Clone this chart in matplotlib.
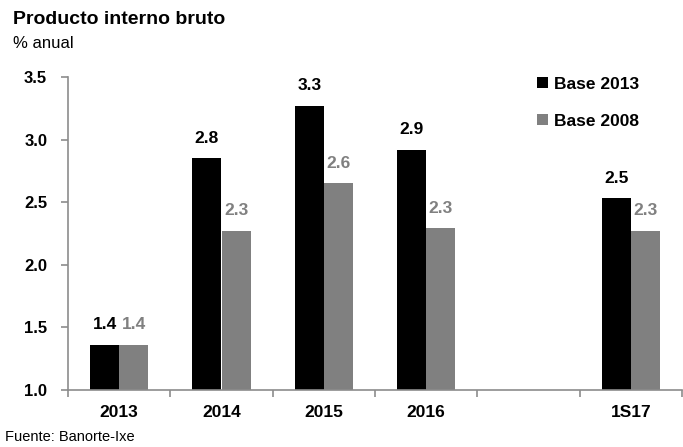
import matplotlib.pyplot as plt
import numpy as np

plt.rcParams["font.family"] = ["Liberation Sans", "DejaVu Sans"]

# Data
categories = ["2013", "2014", "2015", "2016", "", "1S17"]
base_2013 = [1.36, 2.85, 3.27, 2.92, np.nan, 2.53]
base_2008 = [1.36, 2.27, 2.65, 2.29, np.nan, 2.27]
labels_2013 = ["1.4", "2.8", "3.3", "2.9", "", "2.5"]
labels_2008 = ["1.4", "2.3", "2.6", "2.3", "", "2.3"]

BLACK = "#000000"
GRAY = "#808080"
AXIS = "#8c8c8c"

fig = plt.figure(figsize=(6.83, 4.47), dpi=100)
ax = fig.add_axes([68 / 683, 1 - 390 / 447, 614 / 683, 313 / 447])

x = np.arange(len(categories))
width = 0.285
ax.bar(x - width / 2, base_2013, width, color=BLACK, label="Base 2013", zorder=2)
ax.bar(x + width / 2, base_2008, width, color=GRAY, label="Base 2008", zorder=2)

for i in range(len(categories)):
    if labels_2013[i]:
        ax.text(x[i] - width / 2, base_2013[i] + 0.1, labels_2013[i], ha="center",
                va="bottom", fontsize=12.5, fontweight="bold", color=BLACK)
    if labels_2008[i]:
        ax.text(x[i] + width / 2, base_2008[i] + 0.1, labels_2008[i], ha="center",
                va="bottom", fontsize=12.5, fontweight="bold", color=GRAY)

ax.set_xlim(-0.5, len(categories) - 0.5)
ax.set_ylim(1.0, 3.5)
ax.set_yticks(np.arange(1.0, 3.51, 0.5))
ax.set_yticklabels([f"{v:.1f}" for v in np.arange(1.0, 3.51, 0.5)],
                   fontsize=12, fontweight="bold")

# category labels between boundary ticks
ax.set_xticks(np.arange(-0.5, len(categories), 1.0))
ax.set_xticklabels([])
ax.set_xticks(x, minor=True)
ax.set_xticklabels(categories, minor=True, fontsize=12.5, fontweight="bold")
ax.tick_params(axis="x", which="minor", length=0, pad=11)
ax.tick_params(axis="x", which="major", length=5, color=AXIS, width=1.2)
ax.tick_params(axis="y", length=5, color=AXIS, width=1.2, pad=10)

for side in ["top", "right"]:
    ax.spines[side].set_visible(False)
for side in ["left", "bottom"]:
    ax.spines[side].set_color(AXIS)
    ax.spines[side].set_linewidth(1.2)

leg = ax.legend(loc="upper right", bbox_to_anchor=(0.955, 1.05), frameon=False,
                prop={"size": 12.5, "weight": "bold"}, handlelength=0.6,
                handleheight=0.6, handletextpad=0.35, labelspacing=1.25)

fig.text(13 / 683, 1 - 19 / 447, "Producto interno bruto", fontsize=14,
         fontweight="bold", va="center", ha="left")
fig.text(13 / 683, 1 - 44 / 447, "% anual", fontsize=12, va="center", ha="left")
fig.text(5 / 683, 1 - 437 / 447, "Fuente: Banorte-Ixe", fontsize=10.5,
         va="center", ha="left")

fig.savefig("out.png", dpi=100)
